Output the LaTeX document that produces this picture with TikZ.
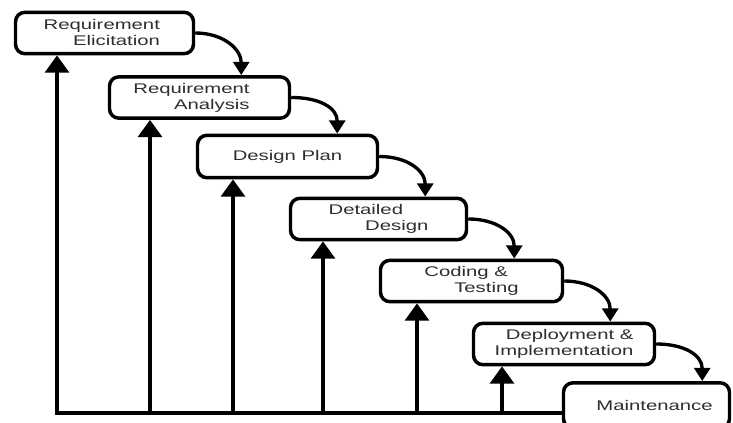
\documentclass[tikz,border=0pt]{standalone}
\usepackage{fontspec}
\newfontfamily\boxfont[FakeStretch=1.45]{Liberation Sans}
\usetikzlibrary{arrows.meta,calc}
\newcommand\gapr[1]{\rule{#1}{0pt}}
\definecolor{txt}{HTML}{2E2E2E}
\begin{document}
\begin{tikzpicture}[x=0.75pt,y=-0.75pt,
  stage/.style={draw=black, line width=2.6pt, rounded corners=7pt, fill=white,
    minimum height=31pt, inner sep=0pt, align=right, text=txt,
    font=\boxfont\fontsize{10.5}{12}\selectfont},
  flow/.style={line width=2.5pt, -{Triangle[width=12pt,length=10pt]}},
  back/.style={line width=2.6pt, line join=miter, -{Triangle[width=18pt,length=13pt]}}]
\useasboundingbox (0,0) rectangle (733,423);
\clip (0,0) rectangle (733,423);
% stages
\node[stage, minimum width=133.5pt] (b1) at (104.5,33) {Requirement\gapr{4pt}\\Elicitation\gapr{4pt}};
\node[stage, minimum width=135pt] (b2) at (199.5,97.5) {Requirement\gapr{12pt}\\Analysis\gapr{12pt}};
\node[stage, minimum width=135pt, minimum height=31.75pt] (b3) at (287.5,156.5) {Design Plan};
\node[stage, minimum width=132pt] (b4) at (378.5,219) {Detailed\gapr{19pt}\\Design};
\node[stage, minimum width=136.5pt] (b5) at (471.5,281) {Coding \&\gapr{8pt}\\Testing};
\node[stage, minimum width=135.75pt] (b6) at (564,344) {Deployment \&\\Implementation};
\node[stage, minimum width=124.5pt, minimum height=34pt] (b7) at (646.5,405.5) {\gapr{12pt}Maintenance};
% feedback arrows
\coordinate (f1) at (57,413);
\coordinate (f2) at (150,413);
\coordinate (f3) at (233,413);
\coordinate (f4) at (323,413);
\coordinate (f5) at (417,413);
\coordinate (f6) at (502,413);
\draw[back] (b7.west |- f1) -- (f1) -- (f1 |- b1.south);
\draw[back] (f2) -- (f2 |- b2.south);
\draw[back] (f3) -- (f3 |- b3.south);
\draw[back] (f4) -- (f4 |- b4.south);
\draw[back] (f5) -- (f5 |- b5.south);
\draw[back] (f6) -- (f6 |- b6.south);
% flow arrows
\foreach \i/\j in {1/2,2/3,3/4,4/5,5/6,6/7}{
  \coordinate (e\i) at ($(b\i.east)+(46,0)$);
  \draw[flow] (b\i.east) .. controls +(28,0) and +(0,-26) .. (e\i |- b\j.north);
}
\end{tikzpicture}
\end{document}
